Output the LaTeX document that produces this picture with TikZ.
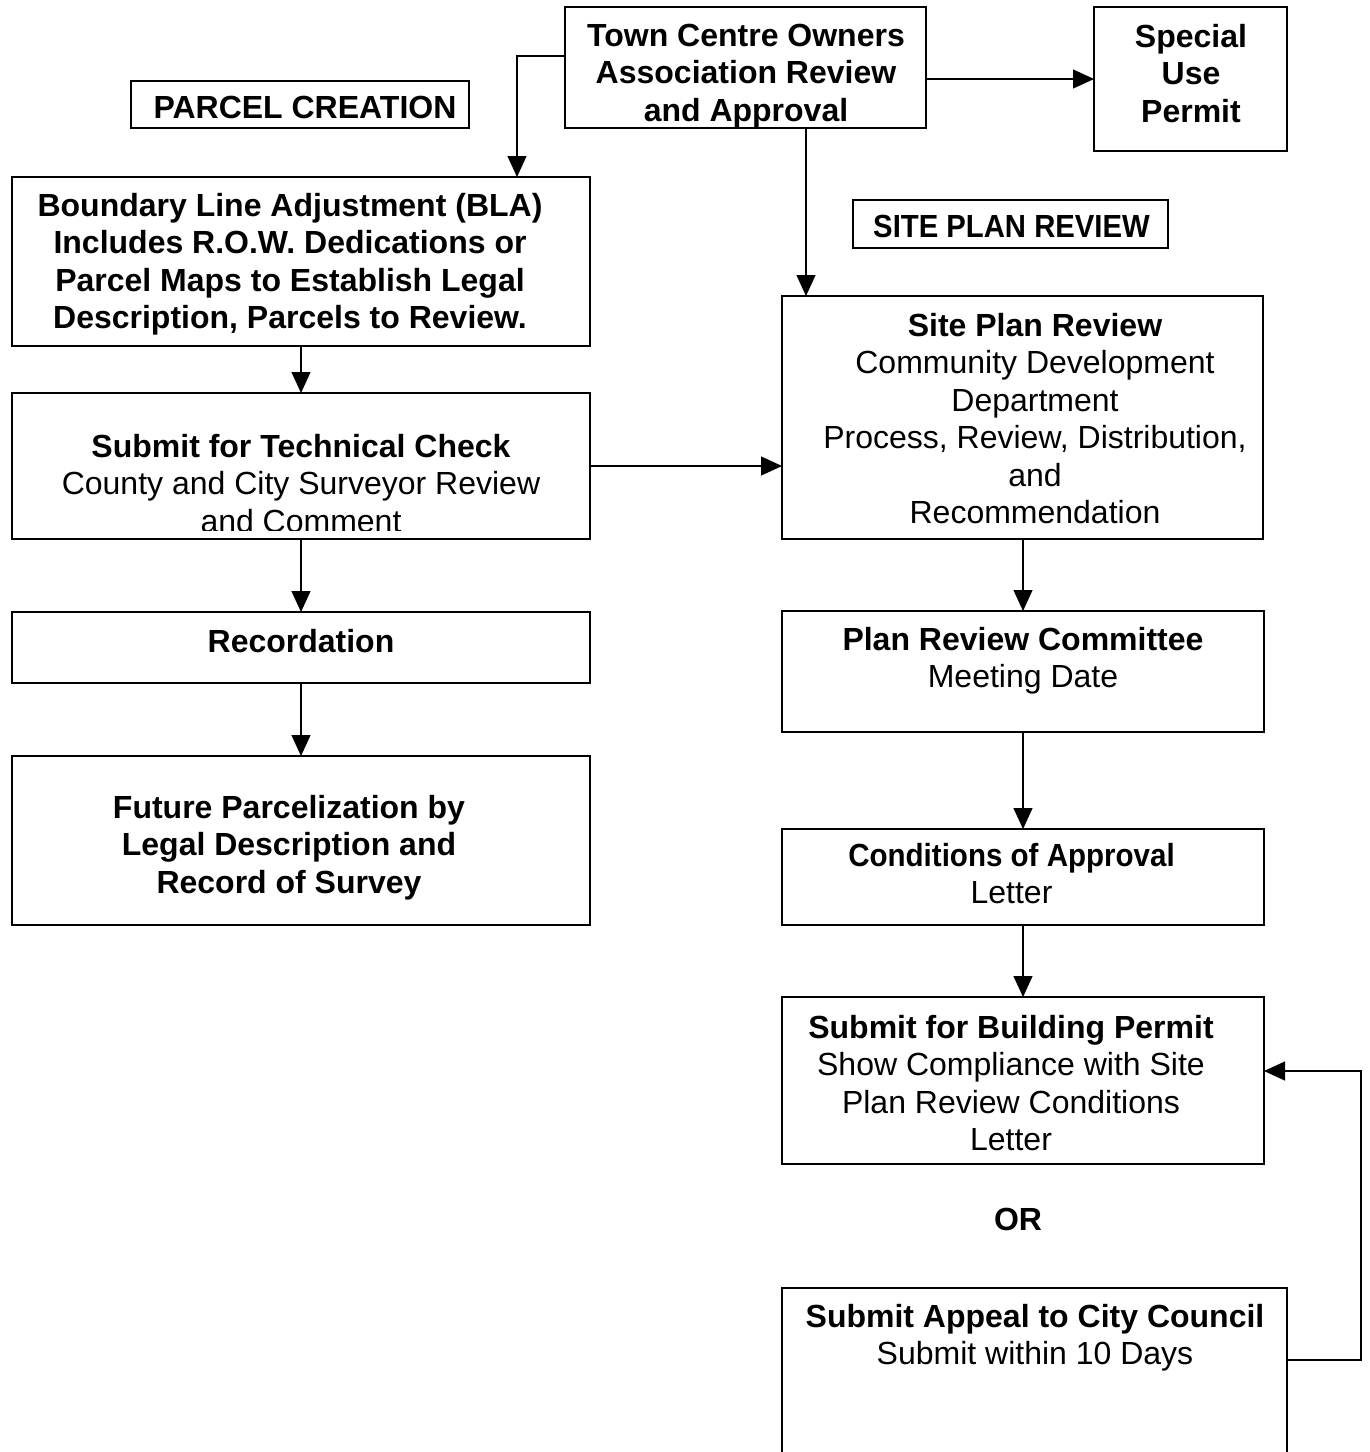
\documentclass[tikz,border=0pt]{standalone}
\usepackage{fontspec}
\setmainfont{Liberation Sans}
\usetikzlibrary{arrows.meta}
\tikzset{
  box/.style={draw, line width=1.2pt, inner sep=0pt, outer sep=0pt},
  thickbox/.style={box, line width=2pt},
  txt/.style={anchor=north, align=center, inner sep=0pt, outer sep=0pt,
              font=\fontsize{32}{37.5}\selectfont},
  arr/.style={line width=1.2pt, -{Triangle[length=21pt,width=19pt]}},
}
\begin{document}
\begin{tikzpicture}[x=1pt,y=-1pt]
\useasboundingbox (0,0) rectangle (1369,1452);
% boxes
\node[box, minimum width=361, minimum height=121] (town) at (745.5,67.5) {};
\node[thickbox, minimum width=193, minimum height=144] (special) at (1190.5,79) {};
\node[box, minimum width=338, minimum height=47] (parcel) at (300,104.5) {};
\node[box, minimum width=315, minimum height=48] (sitelbl) at (1010.5,224) {};
\node[box, minimum width=578, minimum height=169] (bla) at (301,261.5) {};
\node[box, minimum width=578, minimum height=146] (tech) at (301,466) {};
\node[box, minimum width=578, minimum height=71] (rec) at (301,647.5) {};
\node[box, minimum width=578, minimum height=169] (fut) at (301,840.5) {};
\node[box, minimum width=481, minimum height=243] (site) at (1022.5,417.5) {};
\node[box, minimum width=482, minimum height=121] (prc) at (1023,671.5) {};
\node[box, minimum width=482, minimum height=96] (coa) at (1023,877) {};
\node[box, minimum width=482, minimum height=167] (sbp) at (1023,1080.5) {};
\node[box, minimum width=505, minimum height=182] (appeal) at (1034.5,1379) {};
% texts
\node[txt] (t-town) at (746,19.75) {\bfseries\strut Town Centre Owners\\\bfseries\strut Association Review\\\bfseries\strut and Approval};
\node[txt] (t-special) at (1191,20.75) {\bfseries\strut Special\\\bfseries\strut Use\\\bfseries\strut Permit};
\node[txt] (t-parcel) at (305,91.75) {\bfseries\strut PARCEL CREATION};
\node[txt] (t-sitelbl) at (1011.5,210.75) {\bfseries\strut\scalebox{0.915}[1]{SITE PLAN REVIEW}};
\node[txt] (t-bla) at (290,189.75) {\bfseries\strut Boundary Line Adjustment (BLA)\\\bfseries\strut Includes R.O.W. Dedications or\\\bfseries\strut Parcel Maps to Establish Legal\\\bfseries\strut Description, Parcels to Review.};
\begin{scope}
\clip (12,393) rectangle (590,530);
\node[txt] (t-tech) at (301,430.75) {\bfseries\strut Submit for Technical Check\\\strut County and City Surveyor Review\\\strut and Comment};
\end{scope}
\node[txt] (t-rec) at (301,625.75) {\bfseries\strut Recordation};
\node[txt] (t-fut) at (289,791.75) {\bfseries\strut Future Parcelization by\\\bfseries\strut Legal Description and\\\bfseries\strut Record of Survey};
\node[txt] (t-site) at (1035,309.75) {\bfseries\strut Site Plan Review\\\strut Community Development\\\strut Department\\\strut Process, Review, Distribution,\\\strut and\\\strut Recommendation};
\node[txt] (t-prc) at (1023,623.75) {\bfseries\strut Plan Review Committee\\\strut Meeting Date};
\node[txt] (t-coa) at (1011.5,839.75) {\bfseries\strut\scalebox{0.923}[1]{Conditions of Approval}\\\strut Letter};
\node[txt] (t-sbp) at (1011,1011.75) {\bfseries\strut Submit for Building Permit\\\strut Show Compliance with Site\\\strut Plan Review Conditions\\\strut Letter};
\node[txt] (t-or) at (1018,1203.75) {\bfseries\strut OR};
\node[txt] (t-appeal) at (1035,1300.75) {\bfseries\strut Submit Appeal to City Council\\\strut Submit within 10 Days};
% connectors
\draw[arr] ([yshift=11.5pt]town.west) -| ([xshift=216pt]bla.north);
\draw[arr] (town.east |- special.west) -- (special.west);
\draw[arr] (town.south -| 806,0) -- (site.north -| 806,0);
\draw[arr] (bla.south) -- (tech.north);
\draw[arr] (tech.east) -- (tech.east -| site.west);
\draw[arr] (tech.south) -- (rec.north);
\draw[arr] (rec.south) -- (fut.north);
\draw[arr] (prc.north |- site.south) -- (prc.north);
\draw[arr] (prc.south) -- (coa.north);
\draw[arr] (coa.south) -- (sbp.north);
\draw[arr] (appeal.east |- 0,1360) -| ([xshift=97pt,yshift=9.5pt]sbp.east) -- ([yshift=9.5pt]sbp.east);
\end{tikzpicture}
\end{document}
